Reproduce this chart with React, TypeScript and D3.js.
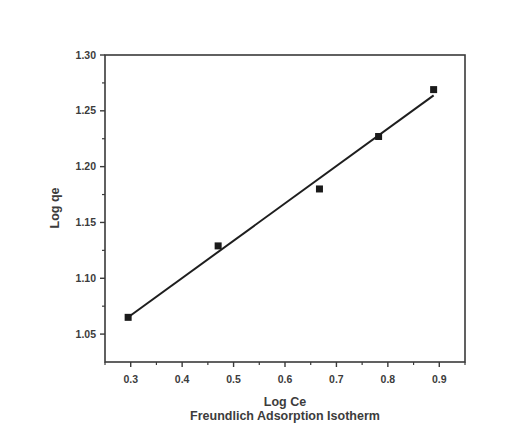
import React from "react";
import * as d3 from "d3";

// Freundlich isotherm: log Ce vs log qe
const logCe: number[] = [0.295, 0.47, 0.667, 0.782, 0.889];
const logQe: number[] = [1.065, 1.129, 1.18, 1.227, 1.269];

const xTicks: number[] = [0.3, 0.4, 0.5, 0.6, 0.7, 0.8, 0.9];
const xMinorTicks: number[] = [0.25, 0.35, 0.45, 0.55, 0.65, 0.75, 0.85, 0.95];
const yTicks: number[] = [1.05, 1.1, 1.15, 1.2, 1.25, 1.3];
const yMinorTicks: number[] = [1.075, 1.125, 1.175, 1.225, 1.275];

const W = 531;
const H = 434;
const left = 105;
const right = 465;
const top = 55;
const bottom = 362;

export default function App() {
  const x = d3.scaleLinear().domain([0.25, 0.95]).range([left, right]);
  const y = d3.scaleLinear().domain([1.025, 1.3]).range([bottom, top]);

  // least-squares fit through the points
  const mx = d3.mean(logCe)!;
  const my = d3.mean(logQe)!;
  let sxy = 0;
  let sxx = 0;
  logCe.forEach((v, i) => {
    sxy += (v - mx) * (logQe[i] - my);
    sxx += (v - mx) * (v - mx);
  });
  const slope = sxy / sxx;
  const icpt = my - slope * mx;
  const x0 = d3.min(logCe)!;
  const x1 = d3.max(logCe)!;
  const fitLine = d3.line<number>()
    .x((d) => x(d))
    .y((d) => y(slope * d + icpt))([x0, x1]);

  const axisColor = "#3a3a3a";
  const textColor = "#3c3c3c";
  const font = "Liberation Sans, Arial, sans-serif";

  return (
    <svg
      width={W}
      height={H}
      style={{ position: "absolute", left: 0, top: 0, background: "#fff" }}
    >
      <rect x={0} y={0} width={W} height={H} fill="#fff" />
      {/* frame */}
      <rect
        x={left}
        y={top}
        width={right - left}
        height={bottom - top}
        fill="none"
        stroke={axisColor}
        strokeWidth={1.6}
      />
      {/* y ticks */}
      {yTicks.map((t) => (
        <g key={"y" + t}>
          <line x1={left - 5} x2={left} y1={y(t)} y2={y(t)} stroke={axisColor} strokeWidth={1.4} />
          <text
            x={left - 9}
            y={y(t)}
            dy="0.35em"
            textAnchor="end"
            fontSize={10.5}
            fontWeight="bold"
            fontFamily={font}
            fill={textColor}
          >
            {t.toFixed(2)}
          </text>
        </g>
      ))}
      {yMinorTicks.map((t) => (
        <line key={"ym" + t} x1={left - 3} x2={left} y1={y(t)} y2={y(t)} stroke={axisColor} strokeWidth={1.2} />
      ))}
      {/* x ticks */}
      {xTicks.map((t) => (
        <g key={"x" + t}>
          <line x1={x(t)} x2={x(t)} y1={bottom} y2={bottom + 5} stroke={axisColor} strokeWidth={1.4} />
          <text
            x={x(t)}
            y={bottom + 17}
            dy="0.35em"
            textAnchor="middle"
            fontSize={10.5}
            fontWeight="bold"
            fontFamily={font}
            fill={textColor}
          >
            {t.toFixed(1)}
          </text>
        </g>
      ))}
      {xMinorTicks.map((t) => (
        <line key={"xm" + t} x1={x(t)} x2={x(t)} y1={bottom} y2={bottom + 3} stroke={axisColor} strokeWidth={1.2} />
      ))}
      {/* fitted line */}
      <path d={fitLine ?? ""} fill="none" stroke="#1e1e1e" strokeWidth={2} />
      {/* data points */}
      {logCe.map((v, i) => (
        <rect
          key={"p" + i}
          x={x(v) - 3.5}
          y={y(logQe[i]) - 3.5}
          width={7}
          height={7}
          fill="#1a1a1a"
        />
      ))}
      {/* axis titles */}
      <text
        transform={`translate(55,208) rotate(-90)`}
        textAnchor="middle"
        dy="0.35em"
        fontSize={12.5}
        fontWeight="bold"
        fontFamily={font}
        fill={textColor}
      >
        Log qe
      </text>
      <text
        x={x(0.6)}
        y={402}
        dy="0.35em"
        textAnchor="middle"
        fontSize={12.5}
        fontWeight="bold"
        fontFamily={font}
        fill={textColor}
      >
        Log Ce
      </text>
      <text
        x={x(0.6)}
        y={416}
        dy="0.35em"
        textAnchor="middle"
        fontSize={12.5}
        fontWeight="bold"
        fontFamily={font}
        fill={textColor}
      >
        Freundlich Adsorption Isotherm
      </text>
    </svg>
  );
}
